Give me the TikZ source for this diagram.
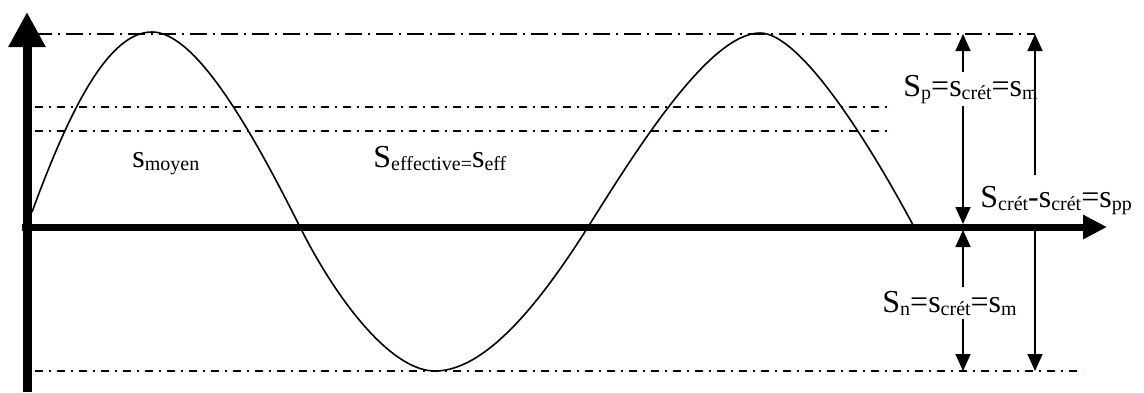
\documentclass[tikz,border=0pt]{standalone}
\usepackage{fontspec}
\setmainfont{Liberation Serif}
\usetikzlibrary{arrows.meta}
\newcommand\lbsub[1]{\raisebox{-1.5pt}{\fontsize{10}{10}\selectfont #1}}
\begin{document}
\begin{tikzpicture}[x=0.5pt,y=-0.5pt,
  topline/.style={line width=0.9pt, dash pattern=on 8.5pt off 3pt on 1pt off 3pt},
  refline/.style={line width=0.75pt, dash pattern=on 4pt off 3pt on 1pt off 3pt},
  dimarrow/.style={line width=0.8pt, {Triangle[length=8.5pt,width=7.5pt]}-{Triangle[length=8.5pt,width=7.5pt]}},
  lbl/.style={font=\fontsize{16}{18}\selectfont, inner xsep=0pt, inner ysep=1.5pt, fill=white, anchor=base west},
  txt/.style={font=\fontsize{16}{18}\selectfont, inner sep=0pt, anchor=base west},
  curve/.style={line width=0.8pt}]
\useasboundingbox (0,0) rectangle (1144,392);

% reference levels
\coordinate (t0) at (35,34);    \coordinate (t1) at (1035,34);
\coordinate (a0) at (35,107);   \coordinate (a1) at (893,107);
\coordinate (b0) at (35,131);   \coordinate (b1) at (893,131);
\coordinate (c0) at (35,371);   \coordinate (c1) at (1083,371);
\draw[topline] (t0) -- (t1);
\draw[refline] (a0) -- (a1);
\draw[refline] (b0) -- (b1);
\draw[refline] (c0) -- (c1);

% signal
\coordinate (s0) at (32,212);
\coordinate (pk1) at (152,32);
\coordinate (z1) at (300,227);
\coordinate (tr) at (435,371);
\coordinate (z2) at (588,227);
\coordinate (pk2) at (760,33);
\coordinate (se) at (913,225);
\draw[curve] (s0) .. controls (72,103) and (110,32) .. (pk1)
  .. controls (195,32) and (250,127) .. (z1)
  .. controls (335,297) and (390,371) .. (tr)
  .. controls (490,371) and (548,290) .. (z2)
  .. controls (638,147) and (710,33) .. (pk2)
  .. controls (800,33) and (868,141) .. (se);

% dimension arrows
\coordinate (p1) at (963,34);  \coordinate (q1) at (963,224);
\coordinate (r1) at (963,230); \coordinate (s1) at (963,371);
\coordinate (p2) at (1035,34); \coordinate (s2) at (1035,371);
\draw[dimarrow] (p1) -- (q1);
\draw[dimarrow] (r1) -- (s1);

\node[lbl] (sp) at (903,96) {S\lbsub{p}=s\lbsub{crét}=s\lbsub{m}};
\node[lbl, inner ysep=2pt] (sn) at (882,312) {S\lbsub{n}=s\lbsub{crét}=s\lbsub{m}};

\draw[dimarrow] (p2) -- (s2);

\node[lbl, inner ysep=5.5pt] (spp) at (980,207) {S\lbsub{crét}-s\lbsub{crét}=s\lbsub{pp}};

\node[txt] (moy) at (132,167) {s\lbsub{moyen}};
\node[txt] (eff) at (373,167) {S\lbsub{effective=}s\lbsub{eff}};

% axes
\coordinate (ybot) at (27,392); \coordinate (ytip) at (27,12);
\coordinate (xl) at (22,227);   \coordinate (xtip) at (1107,227);
\draw[line width=4.5pt, -{Triangle[length=17.5pt,width=17.5pt]}] (ybot) -- (ytip);
\draw[line width=3.5pt, -{Triangle[length=12pt,width=11.5pt]}] (xl) -- (xtip);
\end{tikzpicture}
\end{document}
